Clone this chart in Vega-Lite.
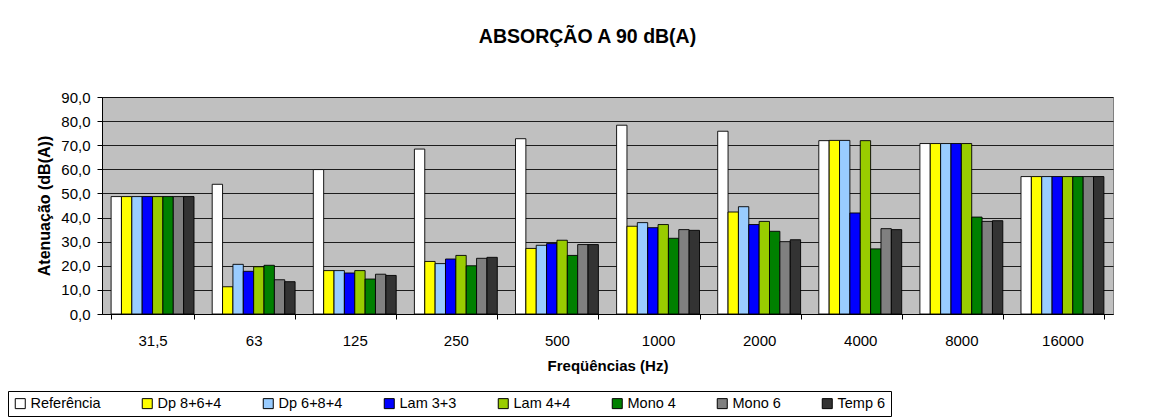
{
  "$schema": "https://vega.github.io/schema/vega-lite/v6.json",
  "width": 1011,
  "height": 217,
  "autosize": {"type": "none"},
  "padding": {"left": 102, "top": 97, "right": 56, "bottom": 104},
  "background": "white",
  "title": {
    "text": "ABSORÇÃO A 90 dB(A)",
    "font": "Liberation Sans",
    "fontSize": 19.5,
    "fontWeight": "bold",
    "color": "black",
    "anchor": "middle",
    "dx": -20,
    "offset": 43
  },
  "data": {
    "values": [
      {"freq": "31,5", "serie": "Referência", "valor": 48.7},
      {"freq": "31,5", "serie": "Dp 8+6+4", "valor": 48.7},
      {"freq": "31,5", "serie": "Dp 6+8+4", "valor": 48.7},
      {"freq": "31,5", "serie": "Lam 3+3", "valor": 48.7},
      {"freq": "31,5", "serie": "Lam 4+4", "valor": 48.7},
      {"freq": "31,5", "serie": "Mono 4", "valor": 48.7},
      {"freq": "31,5", "serie": "Mono 6", "valor": 48.7},
      {"freq": "31,5", "serie": "Temp 6", "valor": 48.7},
      {"freq": "63", "serie": "Referência", "valor": 53.8},
      {"freq": "63", "serie": "Dp 8+6+4", "valor": 11.3},
      {"freq": "63", "serie": "Dp 6+8+4", "valor": 20.6},
      {"freq": "63", "serie": "Lam 3+3", "valor": 17.7},
      {"freq": "63", "serie": "Lam 4+4", "valor": 19.6},
      {"freq": "63", "serie": "Mono 4", "valor": 20.2},
      {"freq": "63", "serie": "Mono 6", "valor": 14.2},
      {"freq": "63", "serie": "Temp 6", "valor": 13.4},
      {"freq": "125", "serie": "Referência", "valor": 59.9},
      {"freq": "125", "serie": "Dp 8+6+4", "valor": 18.0},
      {"freq": "125", "serie": "Dp 6+8+4", "valor": 18.0},
      {"freq": "125", "serie": "Lam 3+3", "valor": 17.0},
      {"freq": "125", "serie": "Lam 4+4", "valor": 18.0},
      {"freq": "125", "serie": "Mono 4", "valor": 14.5},
      {"freq": "125", "serie": "Mono 6", "valor": 16.5},
      {"freq": "125", "serie": "Temp 6", "valor": 16.0},
      {"freq": "250", "serie": "Referência", "valor": 68.4},
      {"freq": "250", "serie": "Dp 8+6+4", "valor": 21.8},
      {"freq": "250", "serie": "Dp 6+8+4", "valor": 20.9},
      {"freq": "250", "serie": "Lam 3+3", "valor": 22.8},
      {"freq": "250", "serie": "Lam 4+4", "valor": 24.3},
      {"freq": "250", "serie": "Mono 4", "valor": 20.0},
      {"freq": "250", "serie": "Mono 6", "valor": 23.1},
      {"freq": "250", "serie": "Temp 6", "valor": 23.5},
      {"freq": "500", "serie": "Referência", "valor": 72.7},
      {"freq": "500", "serie": "Dp 8+6+4", "valor": 27.2},
      {"freq": "500", "serie": "Dp 6+8+4", "valor": 28.5},
      {"freq": "500", "serie": "Lam 3+3", "valor": 29.2},
      {"freq": "500", "serie": "Lam 4+4", "valor": 30.6},
      {"freq": "500", "serie": "Mono 4", "valor": 24.3},
      {"freq": "500", "serie": "Mono 6", "valor": 28.8},
      {"freq": "500", "serie": "Temp 6", "valor": 28.8},
      {"freq": "1000", "serie": "Referência", "valor": 78.3},
      {"freq": "1000", "serie": "Dp 8+6+4", "valor": 36.4},
      {"freq": "1000", "serie": "Dp 6+8+4", "valor": 37.9},
      {"freq": "1000", "serie": "Lam 3+3", "valor": 35.8},
      {"freq": "1000", "serie": "Lam 4+4", "valor": 37.1},
      {"freq": "1000", "serie": "Mono 4", "valor": 31.4},
      {"freq": "1000", "serie": "Mono 6", "valor": 35.0},
      {"freq": "1000", "serie": "Temp 6", "valor": 34.7},
      {"freq": "2000", "serie": "Referência", "valor": 75.8},
      {"freq": "2000", "serie": "Dp 8+6+4", "valor": 42.3},
      {"freq": "2000", "serie": "Dp 6+8+4", "valor": 44.5},
      {"freq": "2000", "serie": "Lam 3+3", "valor": 37.1},
      {"freq": "2000", "serie": "Lam 4+4", "valor": 38.4},
      {"freq": "2000", "serie": "Mono 4", "valor": 34.3},
      {"freq": "2000", "serie": "Mono 6", "valor": 30.0},
      {"freq": "2000", "serie": "Temp 6", "valor": 30.8},
      {"freq": "4000", "serie": "Referência", "valor": 71.9},
      {"freq": "4000", "serie": "Dp 8+6+4", "valor": 72.0},
      {"freq": "4000", "serie": "Dp 6+8+4", "valor": 72.0},
      {"freq": "4000", "serie": "Lam 3+3", "valor": 41.9},
      {"freq": "4000", "serie": "Lam 4+4", "valor": 71.9},
      {"freq": "4000", "serie": "Mono 4", "valor": 27.0},
      {"freq": "4000", "serie": "Mono 6", "valor": 35.4},
      {"freq": "4000", "serie": "Temp 6", "valor": 35.0},
      {"freq": "8000", "serie": "Referência", "valor": 70.7},
      {"freq": "8000", "serie": "Dp 8+6+4", "valor": 70.7},
      {"freq": "8000", "serie": "Dp 6+8+4", "valor": 70.7},
      {"freq": "8000", "serie": "Lam 3+3", "valor": 70.7},
      {"freq": "8000", "serie": "Lam 4+4", "valor": 70.7},
      {"freq": "8000", "serie": "Mono 4", "valor": 40.2},
      {"freq": "8000", "serie": "Mono 6", "valor": 38.4},
      {"freq": "8000", "serie": "Temp 6", "valor": 38.7},
      {"freq": "16000", "serie": "Referência", "valor": 57.0},
      {"freq": "16000", "serie": "Dp 8+6+4", "valor": 57.0},
      {"freq": "16000", "serie": "Dp 6+8+4", "valor": 57.0},
      {"freq": "16000", "serie": "Lam 3+3", "valor": 57.0},
      {"freq": "16000", "serie": "Lam 4+4", "valor": 57.0},
      {"freq": "16000", "serie": "Mono 4", "valor": 57.0},
      {"freq": "16000", "serie": "Mono 6", "valor": 57.0},
      {"freq": "16000", "serie": "Temp 6", "valor": 57.0}
    ]
  },
  "mark": {"type": "bar", "stroke": "black", "strokeWidth": 1, "strokeOpacity": 0.9},
  "encoding": {
    "x": {
      "field": "freq",
      "type": "nominal",
      "sort": ["31,5", "63", "125", "250", "500", "1000", "2000", "4000", "8000", "16000"],
      "scale": {"paddingInner": 0.18, "paddingOuter": 0.09},
      "axis": {
        "title": "Freqüências (Hz)",
        "labelAngle": 0,
        "tickBand": "extent",
        "tickSize": 5,
        "labelPadding": 14,
        "titlePadding": 10,
        "domainColor": "black",
        "tickColor": "black",
        "grid": false
      }
    },
    "xOffset": {
      "field": "serie",
      "type": "nominal",
      "sort": ["Referência", "Dp 8+6+4", "Dp 6+8+4", "Lam 3+3", "Lam 4+4", "Mono 4", "Mono 6", "Temp 6"],
      "scale": {"paddingInner": 0, "paddingOuter": 0}
    },
    "y": {
      "field": "valor",
      "type": "quantitative",
      "scale": {"domain": [0, 90], "nice": false},
      "axis": {
        "title": "Atenuação (dB(A))",
        "values": [0, 10, 20, 30, 40, 50, 60, 70, 80, 90],
        "labelExpr": "replace(format(datum.value, '.1f'), '.', ',')",
        "tickSize": 5,
        "labelPadding": 7,
        "titlePadding": 8,
        "domainColor": "black",
        "tickColor": "black",
        "grid": true,
        "gridColor": "black",
        "gridOpacity": 0.85,
        "gridWidth": 1
      }
    },
    "fill": {
      "field": "serie",
      "type": "nominal",
      "sort": ["Referência", "Dp 8+6+4", "Dp 6+8+4", "Lam 3+3", "Lam 4+4", "Mono 4", "Mono 6", "Temp 6"],
      "scale": {
        "domain": ["Referência", "Dp 8+6+4", "Dp 6+8+4", "Lam 3+3", "Lam 4+4", "Mono 4", "Mono 6", "Temp 6"],
        "range": ["#FFFFFF", "#FFFF00", "#99CCFF", "#0000FF", "#99CC00", "#008000", "#808080", "#333333"]
      },
      "legend": {
        "title": null,
        "orient": "none",
        "legendX": -94,
        "legendY": 294,
        "direction": "horizontal",
        "columns": 8,
        "symbolType": "square",
        "symbolSize": 100,
        "symbolStrokeColor": "black",
        "symbolStrokeWidth": 1,
        "symbolOpacity": 1,
        "labelFontSize": 14.5,
        "labelColor": "black",
        "labelFont": "Liberation Sans",
        "labelOffset": 3,
        "columnPadding": 39,
        "strokeColor": "black",
        "padding": 5
      }
    }
  },
  "config": {
    "view": {"fill": "#C0C0C0", "stroke": "#808080", "strokeWidth": 1},
    "font": "Liberation Sans",
    "axis": {
      "labelFont": "Liberation Sans",
      "labelFontSize": 15,
      "labelColor": "black",
      "titleFont": "Liberation Sans",
      "titleFontSize": 15,
      "titleFontWeight": "bold",
      "titleColor": "black"
    },
    "axisY": {"titleFontSize": 16}
  }
}
